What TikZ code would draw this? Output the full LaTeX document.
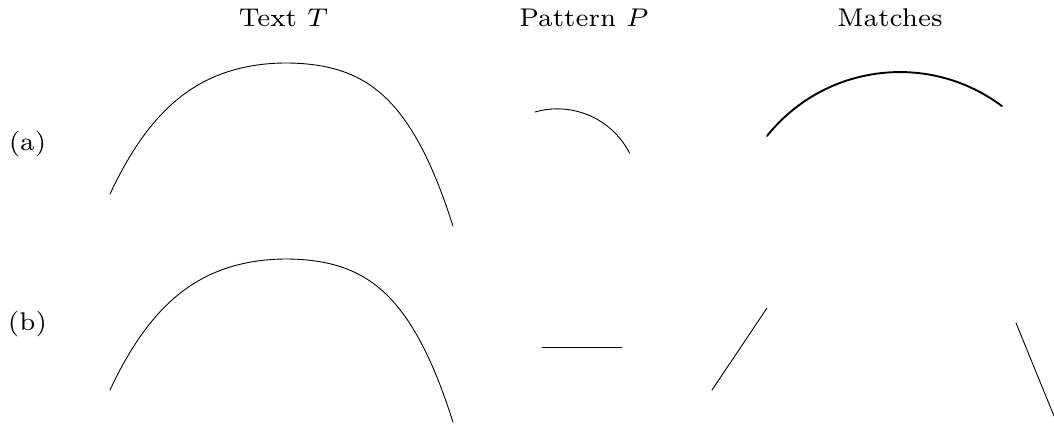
\documentclass[tikz,border=0pt]{standalone}
\tikzset{
  lbl/.style={anchor=base, inner sep=0pt, font=\fontsize{7}{8}\selectfont, scale=3.66, transform shape},
  thin curve/.style={line width=0.9pt, line join=round, line cap=round},
  thick curve/.style={line width=1.9pt, line join=round, line cap=round}
}
\begin{document}
\begin{tikzpicture}[x=1pt,y=1pt]
\path[use as bounding box] (0,0) rectangle (1054,-424);
% titles
\node[lbl] (tT) at (283.5,-26) {Text $T$};
\node[lbl] (tP) at (584,-26) {Pattern $P$};
\node[lbl] (tM) at (890,-26) {Matches};
% row labels
\node[lbl] (la) at (27.5,-150) {(a)};
\node[lbl] (lb) at (27.5,-330) {(b)};
% text T (a)
\draw[thin curve] plot[domain=-1.76:0, samples=50, smooth] ({286+100*\x}, {-(63 + 23.8*\x*\x + 5.97*\x*\x*\x*\x)})
  -- plot[domain=0:1.67, samples=50, smooth] ({286+100*\x}, {-(63 + 22*\x*\x + 13.1*\x*\x*\x*\x)});
% text T (b)
\draw[thin curve] plot[domain=-1.76:0, samples=50, smooth] ({286+100*\x}, {-(259 + 23.8*\x*\x + 5.97*\x*\x*\x*\x)})
  -- plot[domain=0:1.67, samples=50, smooth] ({286+100*\x}, {-(259 + 22*\x*\x + 13.1*\x*\x*\x*\x)});
% pattern (a)
\draw[thin curve] (535,-112) arc[start angle=106, end angle=27, radius=81];
% pattern (b)
\draw[thin curve] (542,-347) -- (622,-347);
% matches (a)
\draw[thick curve] (767,-136) arc[start angle=141.4, end angle=53.1, radius=170];
% matches (b)
\draw[thin curve] (712,-390) -- (767,-308);
\draw[thin curve] (1016,-323) -- (1054,-416);
\end{tikzpicture}
\end{document}
